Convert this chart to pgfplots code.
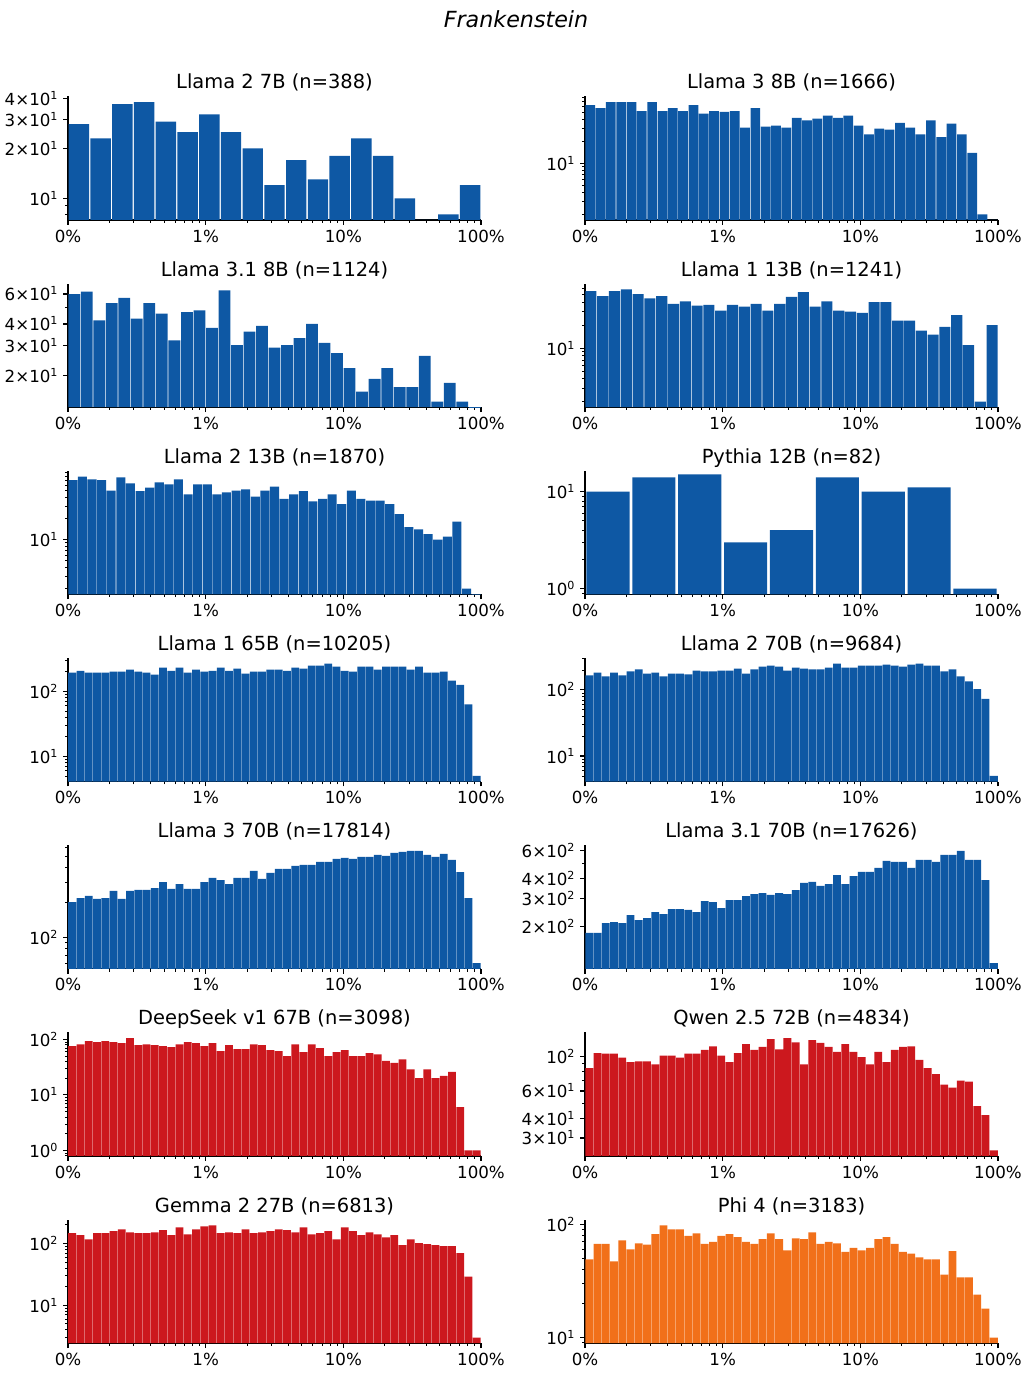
\documentclass[border=0pt]{standalone}
\usepackage{pgfplots}
\usepackage{pgfplotstable}
\pgfplotsset{compat=1.18}
\usepackage{fontspec}
\setmainfont{DejaVu Sans}
\definecolor{cblue}{RGB}{14,88,164}
\definecolor{cred}{RGB}{204,24,30}
\definecolor{corange}{RGB}{241,112,26}
\newcommand{\pw}[1]{10\textsuperscript{#1}}
\newcommand{\sci}[2]{#1×10\textsuperscript{#2}}

% one column of bin counts per panel (last row repeats the final bin, ignored by ybar interval)
\pgfplotstableread[row sep=\\]{c\\28\\23\\37\\38\\29\\25\\32\\25\\20\\12\\17\\13\\18\\23\\18\\10\\0.01\\8\\12\\12\\}\tA
\pgfplotstableread[row sep=\\]{c\\63\\57\\69\\69\\69\\52\\69\\52\\57\\52\\63\\48\\52\\51\\52\\31\\57\\32\\33\\31\\42\\39\\41\\45\\42\\45\\33\\25\\30\\29\\36\\31\\25\\39\\23\\35\\25\\14\\2\\0.01\\0.01\\}\tB
\pgfplotstableread[row sep=\\]{c\\60\\62\\42\\53\\57\\43\\53\\46\\32\\47\\48\\38\\63\\30\\36\\39\\29\\30\\33\\40\\31\\27\\22\\16\\19\\22\\17\\17\\26\\14\\18\\14\\0.01\\0.01\\}\tC
\pgfplotstableread[row sep=\\]{c\\56\\48\\56\\59\\51\\45\\48\\38\\41\\36\\37\\31\\37\\35\\38\\31\\38\\47\\54\\35\\41\\31\\30\\29\\40\\40\\23\\23\\17\\15\\19\\27\\11\\2\\20\\20\\}\tD
\pgfplotstableread[row sep=\\]{c\\70\\79\\72\\70\\50\\77\\63\\49\\55\\65\\61\\72\\44\\61\\61\\44\\47\\50\\52\\41\\50\\57\\38\\44\\49\\35\\38\\44\\32\\50\\38\\36\\36\\32\\23\\15\\14\\12\\10\\11\\18\\2\\0.01\\0.01\\}\tE
\pgfplotstableread[row sep=\\]{c\\10\\14\\15\\3\\4\\14\\10\\11\\1\\1\\}\tF
\pgfplotstableread[row sep=\\]{c\\194\\207\\194\\194\\194\\201\\201\\215\\201\\194\\180\\232\\207\\232\\194\\215\\201\\207\\232\\207\\223\\187\\201\\201\\215\\215\\207\\232\\223\\248\\248\\266\\239\\207\\201\\239\\239\\215\\239\\239\\239\\215\\239\\194\\194\\201\\146\\126\\63\\5\\5\\}\tG
\pgfplotstableread[row sep=\\]{c\\166\\183\\160\\183\\166\\190\\204\\177\\183\\160\\177\\177\\172\\196\\190\\190\\196\\196\\210\\177\\204\\225\\232\\225\\196\\217\\210\\204\\204\\217\\249\\217\\217\\232\\232\\232\\241\\232\\225\\241\\249\\232\\232\\190\\204\\160\\135\\103\\73\\5\\5\\}\tH
\pgfplotstableread[row sep=\\]{c\\202\\219\\228\\215\\219\\252\\215\\252\\257\\257\\267\\301\\262\\289\\262\\262\\301\\326\\313\\289\\326\\326\\375\\320\\360\\390\\390\\414\\422\\422\\448\\448\\476\\486\\476\\495\\495\\515\\505\\536\\547\\558\\558\\515\\495\\526\\467\\367\\219\\60\\60\\}\tI
\pgfplotstableread[row sep=\\]{c\\183\\183\\211\\214\\211\\237\\220\\227\\247\\240\\258\\258\\255\\247\\290\\286\\262\\294\\294\\312\\321\\326\\317\\326\\321\\340\\377\\383\\361\\371\\423\\371\\417\\442\\442\\469\\519\\512\\512\\469\\526\\526\\512\\566\\566\\600\\526\\526\\393\\118\\118\\}\tJ
\pgfplotstableread[row sep=\\]{c\\76\\82\\93\\90\\93\\90\\86\\106\\79\\82\\79\\76\\73\\82\\90\\86\\76\\86\\62\\79\\67\\67\\82\\79\\64\\62\\50\\82\\59\\82\\70\\50\\59\\64\\50\\50\\57\\54\\41\\38\\44\\29\\20\\29\\20\\22\\26\\6\\1\\1\\1\\}\tK
\pgfplotstableread[row sep=\\]{c\\84\\105\\104\\104\\98\\92\\93\\93\\89\\101\\101\\98\\104\\104\\110\\116\\101\\92\\105\\120\\110\\115\\129\\111\\131\\123\\89\\127\\122\\115\\107\\120\\107\\99\\89\\107\\92\\110\\115\\116\\95\\84\\77\\66\\63\\70\\69\\48\\42\\25\\25\\}\tL
\pgfplotstableread[row sep=\\]{c\\147\\136\\117\\147\\147\\158\\170\\152\\147\\147\\152\\164\\136\\183\\141\\170\\190\\197\\147\\152\\147\\170\\147\\152\\158\\170\\164\\152\\183\\141\\147\\158\\117\\183\\158\\136\\152\\141\\126\\136\\94\\117\\101\\98\\94\\91\\91\\70\\29\\3\\3\\}\tM
\pgfplotstableread[row sep=\\]{c\\49\\67\\67\\47\\72\\60\\68\\66\\82\\98\\90\\90\\79\\83\\67\\70\\79\\82\\77\\70\\67\\74\\83\\74\\59\\75\\74\\85\\67\\70\\68\\57\\62\\59\\62\\74\\77\\67\\57\\55\\51\\49\\49\\36\\58\\34\\34\\24\\18\\10\\10\\}\tN

\pgfplotsset{
  mypanel/.style={
    scale only axis, width=297.36pt, height=88.92pt,
    anchor=south west,
    xmin=-3, xmax=0,
    xtick={-3,-2,-1,0}, xticklabels={0\%,1\%,10\%,100\%},
    minor xtick={-2.69897,-2.52288,-2.39794,-2.30103,-2.22185,-2.15490,-2.09691,-2.04576,
                 -1.69897,-1.52288,-1.39794,-1.30103,-1.22185,-1.15490,-1.09691,-1.04576,
                 -0.69897,-0.52288,-0.39794,-0.30103,-0.22185,-0.15490,-0.09691,-0.04576},
    axis x line*=bottom, axis y line*=left,
    axis line style={line width=0.8pt},
    tick align=outside,
    major tick length=3.5pt, minor tick length=2pt,
    every major tick/.append style={line width=0.8pt, black},
    every minor tick/.append style={line width=0.6pt, black},
    tick label style={font=\fontsize{12}{14}\selectfont},
    title style={font=\fontsize{14}{17}\selectfont, at={(0.5,1)}, anchor=base, yshift=-0.5pt},
  },
  mybars/.style={ybar interval, draw=none, /pgf/bar interval width=0.94},
}

\begin{document}
\begin{tikzpicture}
\useasboundingbox (0,0) rectangle (743.04pt,992.16pt);
\node[font=\fontsize{16}{19}\selectfont\itshape, anchor=base] at (371.52pt,972.0pt) {Frankenstein};

% Row 1
\begin{axis}[ymode=log, log origin=infty, mypanel, at={(48.96pt,833.76pt)}, title={Llama 2 7B (n=388)},
  ymin=7.40, ymax=41.07, ytick={10,20,30,40}, yticklabels={\pw{1},\sci{2}{1},\sci{3}{1},\sci{4}{1}},
  minor ytick={8,9}]
\addplot[mybars, fill=cblue] table[x expr=-3+3*\coordindex/19, y=c]{\tA};
\end{axis}
\begin{axis}[ymode=log, log origin=infty, mypanel, at={(421.2pt,833.76pt)}, title={Llama 3 8B (n=1666)},
  ymin=1.68, ymax=82.6, ytick={10}, yticklabels={\pw{1}},
  minor ytick={2,3,4,5,6,7,8,9,20,30,40,50,60,70,80}]
\addplot[mybars, fill=cblue] table[x expr=-3+3*\coordindex/40, y=c]{\tB};
\end{axis}

% Row 2
\begin{axis}[ymode=log, log origin=infty, mypanel, at={(48.96pt,698.98pt)}, title={Llama 3.1 8B (n=1124)},
  ymin=12.97, ymax=69.0, ytick={20,30,40,60}, yticklabels={\sci{2}{1},\sci{3}{1},\sci{4}{1},\sci{6}{1}},
  minor ytick={50}]
\addplot[mybars, fill=cblue] table[x expr=-3+3*\coordindex/33, y=c]{\tC};
\end{axis}
\begin{axis}[ymode=log, log origin=infty, mypanel, at={(421.2pt,698.98pt)}, title={Llama 1 13B (n=1241)},
  ymin=1.69, ymax=69.9, ytick={10}, yticklabels={\pw{1}},
  minor ytick={2,3,4,5,6,7,8,9,20,30,40,50,60}]
\addplot[mybars, fill=cblue] table[x expr=-3+3*\coordindex/35, y=c]{\tD};
\end{axis}

% Row 3
\begin{axis}[ymode=log, log origin=infty, mypanel, at={(48.96pt,564.19pt)}, title={Llama 2 13B (n=1870)},
  ymin=1.66, ymax=95.1, ytick={10}, yticklabels={\pw{1}},
  minor ytick={2,3,4,5,6,7,8,9,20,30,40,50,60,70,80,90}]
\addplot[mybars, fill=cblue] table[x expr=-3+3*\coordindex/43, y=c]{\tE};
\end{axis}
\begin{axis}[ymode=log, log origin=infty, mypanel, at={(421.2pt,564.19pt)}, title={Pythia 12B (n=82)},
  ymin=0.873, ymax=16.3, ytick={1,10}, yticklabels={\pw{0},\pw{1}},
  minor ytick={0.9,2,3,4,5,6,7,8,9}]
\addplot[mybars, fill=cblue] table[x expr=-3+3*\coordindex/9, y=c]{\tF};
\end{axis}

% Row 4
\begin{axis}[ymode=log, log origin=infty, mypanel, at={(48.96pt,429.41pt)}, title={Llama 1 65B (n=10205)},
  ymin=4.10, ymax=324.6, ytick={10,100}, yticklabels={\pw{1},\pw{2}},
  minor ytick={5,6,7,8,9,20,30,40,50,60,70,80,90,200,300}]
\addplot[mybars, fill=cblue] table[x expr=-3+3*\coordindex/50, y=c]{\tG};
\end{axis}
\begin{axis}[ymode=log, log origin=infty, mypanel, at={(421.2pt,429.41pt)}, title={Llama 2 70B (n=9684)},
  ymin=4.11, ymax=302.7, ytick={10,100}, yticklabels={\pw{1},\pw{2}},
  minor ytick={5,6,7,8,9,20,30,40,50,60,70,80,90,200,300}]
\addplot[mybars, fill=cblue] table[x expr=-3+3*\coordindex/50, y=c]{\tH};
\end{axis}

% Row 5
\begin{axis}[ymode=log, log origin=infty, mypanel, at={(48.96pt,294.62pt)}, title={Llama 3 70B (n=17814)},
  ymin=53.7, ymax=624, ytick={100}, yticklabels={\pw{2}},
  minor ytick={60,70,80,90,200,300,400,500,600}]
\addplot[mybars, fill=cblue] table[x expr=-3+3*\coordindex/50, y=c]{\tI};
\end{axis}
\begin{axis}[ymode=log, log origin=infty, mypanel, at={(421.2pt,294.62pt)}, title={Llama 3.1 70B (n=17626)},
  ymin=108.8, ymax=650.6, ytick={200,300,400,600}, yticklabels={\sci{2}{2},\sci{3}{2},\sci{4}{2},\sci{6}{2}},
  minor ytick={500}]
\addplot[mybars, fill=cblue] table[x expr=-3+3*\coordindex/50, y=c]{\tJ};
\end{axis}

% Row 6
\begin{axis}[ymode=log, log origin=infty, mypanel, at={(48.96pt,159.84pt)}, title={DeepSeek v1 67B (n=3098)},
  ymin=0.792, ymax=133.7, ytick={1,10,100}, yticklabels={\pw{0},\pw{1},\pw{2}},
  minor ytick={0.8,0.9,2,3,4,5,6,7,8,9,20,30,40,50,60,70,80,90}]
\addplot[mybars, fill=cred] table[x expr=-3+3*\coordindex/50, y=c]{\tK};
\end{axis}
\begin{axis}[ymode=log, log origin=infty, mypanel, at={(421.2pt,159.84pt)}, title={Qwen 2.5 72B (n=4834)},
  ymin=23.0, ymax=142.2, ytick={30,40,60,100}, yticklabels={\sci{3}{1},\sci{4}{1},\sci{6}{1},\pw{2}},
  minor ytick={50,70,80,90}]
\addplot[mybars, fill=cred] table[x expr=-3+3*\coordindex/50, y=c]{\tL};
\end{axis}

% Row 7
\begin{axis}[ymode=log, log origin=infty, mypanel, at={(48.96pt,25.06pt)}, title={Gemma 2 27B (n=6813)},
  ymin=2.43, ymax=242.8, ytick={10,100}, yticklabels={\pw{1},\pw{2}},
  minor ytick={3,4,5,6,7,8,9,20,30,40,50,60,70,80,90,200}]
\addplot[mybars, fill=cred] table[x expr=-3+3*\coordindex/50, y=c]{\tM};
\end{axis}
\begin{axis}[ymode=log, log origin=infty, mypanel, at={(421.2pt,25.06pt)}, title={Phi 4 (n=3183)},
  ymin=8.92, ymax=109.8, ytick={10,100}, yticklabels={\pw{1},\pw{2}},
  minor ytick={9,20,30,40,50,60,70,80,90}]
\addplot[mybars, fill=corange] table[x expr=-3+3*\coordindex/50, y=c]{\tN};
\end{axis}
\end{tikzpicture}
\end{document}
